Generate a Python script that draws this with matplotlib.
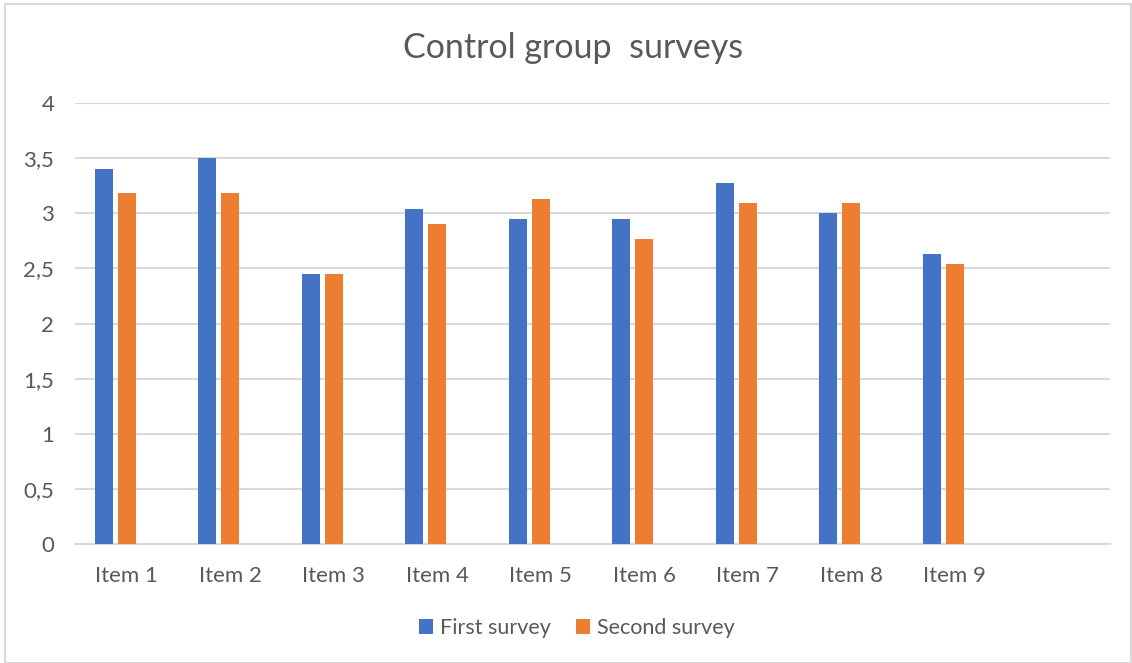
import numpy as np
import matplotlib
from matplotlib import pyplot as plt
from matplotlib.patches import Rectangle
from matplotlib.ticker import FuncFormatter

matplotlib.rcParams['font.family'] = ['Lato', 'DejaVu Sans']

# survey data
items = ['Item 1', 'Item 2', 'Item 3', 'Item 4', 'Item 5',
         'Item 6', 'Item 7', 'Item 8', 'Item 9']
first_survey = [3.40, 3.50, 2.45, 3.04, 2.95, 2.95, 3.27, 3.00, 2.63]
second_survey = [3.18, 3.18, 2.45, 2.90, 3.13, 2.77, 3.09, 3.09, 2.54]

text_color = '#595959'
grid_color = '#d9d9d9'

fig = plt.figure(figsize=(11.32, 6.63), dpi=100)
ax = fig.add_axes([75 / 1132, 1 - 544 / 663, (1110 - 75) / 1132, (544 - 103) / 663])

x = np.arange(len(items))
w = 0.174
# groups are laid out for three series, the third one is empty
ax.bar(x - 0.222, first_survey, width=w, color='#4472C4', label='First survey', zorder=3)
ax.bar(x, second_survey, width=w, color='#ED7D31', label='Second survey', zorder=3)

ax.set_xlim(-0.5, 9.5)
ax.set_ylim(0, 4)
ax.set_yticks(np.arange(0, 4.01, 0.5))
ax.yaxis.set_major_formatter(FuncFormatter(lambda v, p: ('%g' % v).replace('.', ',')))
ax.set_xticks(x)
ax.set_xticklabels(items)

ax.grid(axis='y', color=grid_color, linewidth=1.5, zorder=0)
for s in ['top', 'right', 'left']:
    ax.spines[s].set_visible(False)
ax.spines['bottom'].set_color(grid_color)
ax.spines['bottom'].set_linewidth(1.5)
ax.tick_params(axis='both', length=0, labelsize=16, colors=text_color)
ax.tick_params(axis='y', pad=15)
ax.tick_params(axis='x', pad=16)

fig.text(573 / 1132, 1 - 48 / 663, 'Control group  surveys', ha='center', va='center',
         fontsize=24.5, color=text_color)

leg = fig.legend(loc='center', bbox_to_anchor=(577 / 1132, 1 - 628 / 663), ncol=2,
                 frameon=False, fontsize=15.5, handlelength=0.65, handleheight=0.65,
                 handletextpad=0.3, columnspacing=1.2)
for t in leg.get_texts():
    t.set_color(text_color)

# outer chart border
fig.patches.append(Rectangle((5 / 1132, 0), 1126 / 1132, 1 - 4 / 663, transform=fig.transFigure,
                             fill=False, edgecolor=grid_color, linewidth=1.5))

plt.savefig('out.png', dpi=100)
